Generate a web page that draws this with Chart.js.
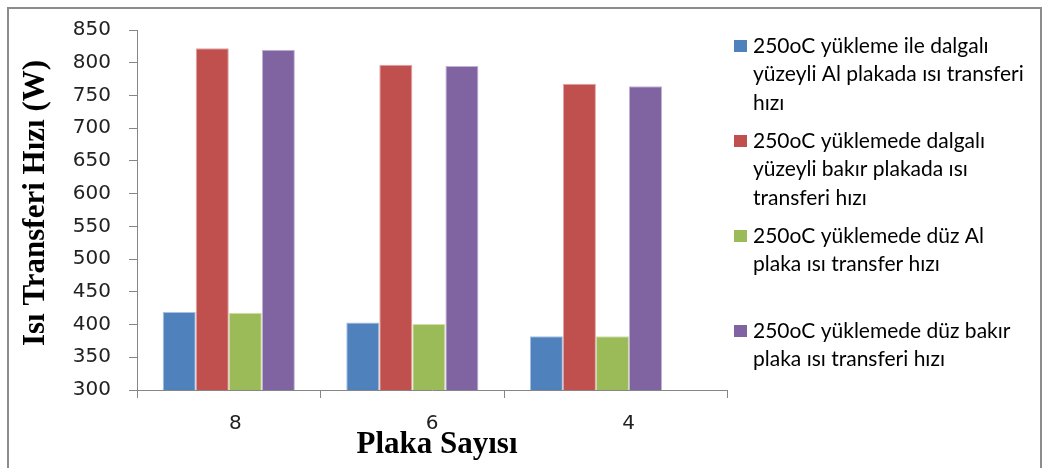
<!DOCTYPE html>
<html>
<head>
<meta charset="utf-8">
<script src="https://cdn.jsdelivr.net/npm/chart.js@4/dist/chart.umd.min.js"></script>
<style>
  html, body { margin: 0; padding: 0; background: #ffffff; }
  #wrap { width: 1047px; height: 468px; position: relative; }
</style>
</head>
<body>
<div id="wrap"><canvas id="chart" width="1047" height="468"></canvas></div>
<script>
// Plate counts on the category axis
const categories = ['8', '6', '4'];

// Value-axis tick labels (W)
const yTicks = [300, 350, 400, 450, 500, 550, 600, 650, 700, 750, 800, 850];

// Heat transfer rate (W) for each plate configuration at 250 oC loading
const dalgaliAl    = [419, 403, 382];
const dalgaliBakir = [822, 797, 768];
const duzAl        = [418, 401, 382];
const duzBakir     = [820, 795, 764];

// Legend text, one entry per line as it wraps in the legend column
const nameDalgaliAl    = ['250oC yükleme ile dalgalı', 'yüzeyli Al plakada ısı transferi', 'hızı'];
const nameDalgaliBakir = ['250oC yüklemede dalgalı', 'yüzeyli bakır plakada ısı', 'transferi hızı'];
const nameDuzAl        = ['250oC yüklemede düz Al', 'plaka ısı transfer hızı', ''];
const nameDuzBakir     = ['250oC yüklemede düz bakır', 'plaka ısı transferi hızı'];

const yTitle = 'Isı Transferi Hızı (W)';
const xTitle = 'Plaka Sayısı';

const AXIS = '#868686';
const TICK_COLOR = '#222222';
const X_END = 2.714; // the category axis line runs a little past the last group

const series = [
  { name: nameDalgaliAl,    values: dalgaliAl,    fill: '#4F81BD', edge: '#a9c0e0' },
  { name: nameDalgaliBakir, values: dalgaliBakir, fill: '#C0504D', edge: '#e0a4a2' },
  { name: nameDuzAl,        values: duzAl,        fill: '#9BBB59', edge: '#cfe0ab' },
  { name: nameDuzBakir,     values: duzBakir,     fill: '#8064A2', edge: '#c2b3d6' }
];

const decor = {
  id: 'decor',
  afterDraw(chart) {
    const ctx = chart.ctx;
    ctx.save();

    // outer frame
    ctx.strokeStyle = '#8c8c8c';
    ctx.lineWidth = 2;
    ctx.strokeRect(8, 8, 1033, 470);

    // axis titles
    ctx.fillStyle = '#000000';
    ctx.font = 'bold 31px "Liberation Serif", "Times New Roman", serif';
    ctx.textAlign = 'center';
    ctx.textBaseline = 'alphabetic';
    ctx.fillText(xTitle, 437, 453);

    ctx.save();
    ctx.translate(44, 203);
    ctx.rotate(-Math.PI / 2);
    ctx.fillText(yTitle, 0, 0);
    ctx.restore();

    // legend
    const lineH = 28.5;
    const gap = 9.5;
    let y = 46;
    ctx.font = '21px Lato, "Open Sans", sans-serif';
    ctx.textAlign = 'left';
    ctx.textBaseline = 'middle';
    chart.data.datasets.forEach((ds) => {
      const lines = ds.legendLines;
      ctx.fillStyle = ds.backgroundColor;
      ctx.fillRect(734, y - 6, 13, 12);
      ctx.fillStyle = '#000000';
      lines.forEach((t, i) => ctx.fillText(t, 753, y + i * lineH));
      y += lines.length * lineH + gap;
    });

    ctx.restore();
  }
};

const tickFont = { family: '"DejaVu Sans", Verdana, sans-serif', size: 20 };

new Chart(document.getElementById('chart').getContext('2d'), {
  type: 'bar',
  data: {
    datasets: series.map((s) => ({
      label: s.name.join(' '),
      legendLines: s.name,
      data: s.values.map((v, i) => ({ x: i, y: v })),
      backgroundColor: s.fill,
      borderColor: s.edge,
      borderWidth: 1,
      categoryPercentage: 0.72,
      barPercentage: 1.0,
      xAxisID: 'x',
      yAxisID: 'y'
    }))
  },
  options: {
    responsive: false,
    animation: false,
    devicePixelRatio: 1,
    layout: { padding: { top: 23, right: 320, left: 0, bottom: 0 } },
    plugins: { legend: { display: false }, tooltip: { enabled: false } },
    scales: {
      x: {
        type: 'linear',
        position: 'bottom',
        min: -0.5,
        max: X_END,
        bounds: 'data',
        offset: false,
        grid: { offset: false, drawOnChartArea: false, tickLength: 8, color: AXIS },
        border: { color: AXIS, width: 1 },
        ticks: { display: false },
        afterBuildTicks: (s) => { s.ticks = [-0.5, 0.5, 1.5, X_END].map((v) => ({ value: v })); },
        afterFit: (s) => { s.height = 8; }
      },
      x2: {
        type: 'category',
        labels: categories,
        position: 'bottom',
        offset: true,
        grid: { display: false, drawTicks: false },
        border: { display: false },
        ticks: { font: tickFont, color: TICK_COLOR, padding: 14, maxRotation: 0 },
        afterFit: (s) => { s.height = 70; }
      },
      y: {
        min: 300,
        max: 850,
        grid: { drawOnChartArea: false, tickLength: 8, color: AXIS },
        border: { color: AXIS, width: 1 },
        ticks: { font: tickFont, color: TICK_COLOR, padding: 18, stepSize: 50 },
        afterBuildTicks: (s) => { s.ticks = yTicks.map((v) => ({ value: v })); },
        afterFit: (s) => { s.width = 137; }
      }
    }
  },
  plugins: [decor]
});
</script>
</body>
</html>
